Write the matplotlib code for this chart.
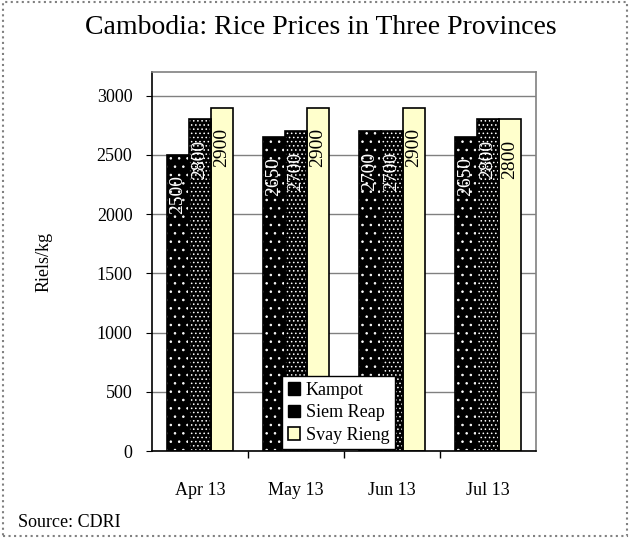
import numpy as np
import matplotlib
matplotlib.use("Agg")
import matplotlib.pyplot as plt
from matplotlib.patches import Patch, Rectangle

plt.rcParams['font.family'] = ['Liberation Serif', 'DejaVu Serif']
plt.rcParams['hatch.linewidth'] = 0.6

months = ["Apr 13", "May 13", "Jun 13", "Jul 13"]
kampot = [2500, 2650, 2700, 2650]
siem_reap = [2800, 2700, 2700, 2800]
svay_rieng = [2900, 2900, 2900, 2800]
series_names = ["Kampot", "Siem Reap", "Svay Rieng"]

fig = plt.figure(figsize=(6.3, 5.38), dpi=100)
ax = fig.add_axes([0.241, 0.1617, 0.61, 0.7043])

x = np.arange(len(months))
w = 0.229

# -------- bars --------
ax.bar(x - w, kampot, w, color="black", edgecolor="white", hatch="..", linewidth=0, zorder=2)
ax.bar(x, siem_reap, w, color="black", edgecolor="white", hatch="....", linewidth=0, zorder=2)
ax.bar(x + w, svay_rieng, w, color="#FFFFCC", edgecolor="black", linewidth=1.2, zorder=2)
ax.bar(x - w, kampot, w, fill=False, edgecolor="black", linewidth=1.2, zorder=3)
ax.bar(x, siem_reap, w, fill=False, edgecolor="black", linewidth=1.2, zorder=3)

# value labels
for off, vals, col in [(-w, kampot, "white"), (0, siem_reap, "white"), (w, svay_rieng, "black")]:
    for xi, v in zip(x, vals):
        ax.text(xi + off, v - 170, str(v), rotation=90, ha="center", va="top",
                fontsize=14, color=col, zorder=4)

# -------- axes --------
ax.set_xlim(-0.5, 3.5)
ax.set_ylim(0, 3200)
ax.set_yticks(np.arange(0, 3001, 500))
ax.set_xticks(x)
ax.set_xticklabels(months, fontsize=13)
ax.set_xticks([0.5, 1.5, 2.5], minor=True)
ax.tick_params(axis="x", which="major", length=0, pad=22)
ax.tick_params(axis="x", which="minor", length=5, direction="out", width=1)
ax.tick_params(axis="y", length=4, direction="out", labelsize=13, pad=10)
ax.yaxis.grid(True, color="#808080", linewidth=1, zorder=0)
ax.set_axisbelow(True)
ax.spines["top"].set_color("#808080")
ax.spines["right"].set_color("#808080")
ax.spines["left"].set_color("black")
ax.spines["bottom"].set_color("black")
for s in ax.spines.values():
    s.set_linewidth(1.2)
ax.set_ylabel("Riels/kg", fontsize=13, labelpad=32)

handles = [Patch(facecolor="black", edgecolor="black"),
           Patch(facecolor="black", edgecolor="black"),
           Patch(facecolor="#FFFFCC", edgecolor="black", linewidth=1.2)]
leg = ax.legend(handles, series_names, loc="lower left", bbox_to_anchor=(0.339, 0.005),
                fontsize=13, frameon=True, fancybox=False, framealpha=1,
                handlelength=0.7, handleheight=0.7,
                handletextpad=0.3, labelspacing=0.3, borderpad=0.3, borderaxespad=0)
leg.get_frame().set_edgecolor("black")
leg.get_frame().set_linewidth(1.0)
leg.set_zorder(5)

fig.text(0.51, 0.948, "Cambodia: Rice Prices in Three Provinces", ha="center", va="center", fontsize=20)
fig.text(0.029, 0.028, "Source: CDRI", ha="left", va="center", fontsize=13)

fig.patches.append(Rectangle((0.004, 0.004), 0.992, 0.992, transform=fig.transFigure,
                             fill=False, edgecolor="#808080", linestyle=":", linewidth=1.5))

fig.savefig("out.png", dpi=100)
